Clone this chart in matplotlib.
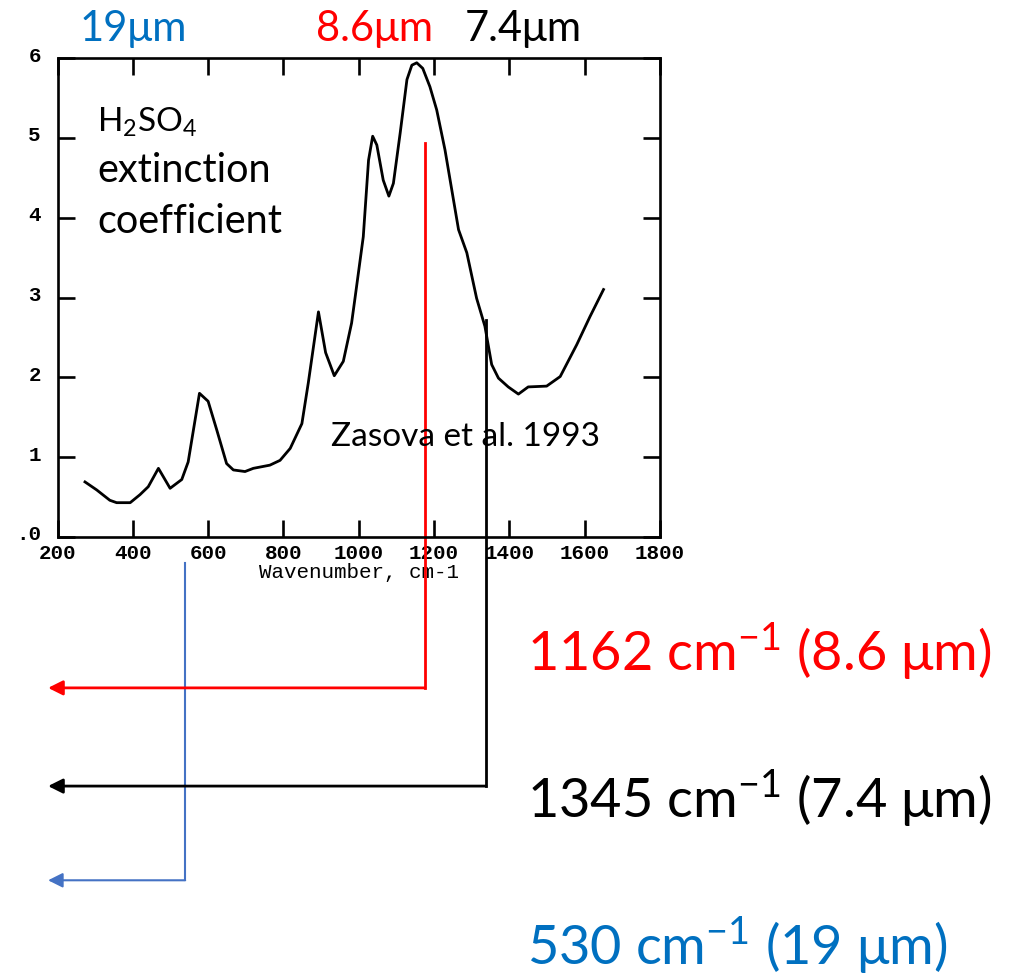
import matplotlib.pyplot as plt
from matplotlib.transforms import ScaledTranslation

plt.rcParams['font.family'] = ['Lato', 'DejaVu Sans']
plt.rcParams['mathtext.fontset'] = 'custom'
plt.rcParams['mathtext.rm'] = 'Lato'
plt.rcParams['mathtext.it'] = 'Lato:italic'
plt.rcParams['mathtext.bf'] = 'Lato:bold'

# H2SO4 extinction coefficient (Zasova et al. 1993)
wavenumber = [273, 304, 339, 357, 393, 419, 441, 468, 499, 530, 547, 562, 577,
              600, 623, 649, 667, 698, 720, 764, 791, 818, 849, 866, 893, 912,
              935, 959, 981, 990, 1012, 1026, 1037, 1048, 1065, 1080, 1092,
              1110, 1128, 1141, 1154, 1170, 1189, 1207, 1229, 1247, 1265, 1287,
              1313, 1335, 1353, 1371, 1397, 1424, 1450, 1499, 1535, 1579, 1614,
              1650]
extinction = [0.69, 0.59, 0.46, 0.43, 0.43, 0.53, 0.63, 0.86, 0.61, 0.72, 0.94,
              1.37, 1.80, 1.70, 1.34, 0.92, 0.84, 0.82, 0.86, 0.90, 0.96, 1.11,
              1.42, 1.93, 2.82, 2.31, 2.02, 2.20, 2.68, 2.99, 3.76, 4.72, 5.02,
              4.91, 4.47, 4.27, 4.43, 5.06, 5.73, 5.91, 5.94, 5.87, 5.64, 5.35,
              4.85, 4.35, 3.85, 3.56, 2.99, 2.64, 2.16, 1.99, 1.88, 1.79, 1.88,
              1.89, 2.01, 2.41, 2.76, 3.10]

xticks = [200, 400, 600, 800, 1000, 1200, 1400, 1600, 1800]
yticks = [0, 1, 2, 3, 4, 5, 6]
ytick_labels = ['.0', '1', '2', '3', '4', '5', '6']

# marked bands: where the guide sits on the plot, and the text for it
marks_x = [1176, 1338, 539]
marks_label = [r'1162 cm$^{-1}$ (8.6 μm)', r'1345 cm$^{-1}$ (7.4 μm)',
               r'530 cm$^{-1}$ (19 μm)']
top_labels = ['19μm', '8.6μm', '7.4μm']
top_x = [402, 1041, 1436]

RED = '#FF0000'
BLUE = '#0070C0'
mark_colors = [RED, 'black', BLUE]
line_colors = [RED, 'black', '#4472C4']
top_colors = [BLUE, RED, 'black']
marks_top = [4.94, 2.72, -0.33]
arrow_y = [-1.89, -3.12, -4.30]
label_base = [671, 818, 965]  # pixel rows of the big labels' baselines

W, H = 1017, 977
fig = plt.figure(figsize=(W / 100, H / 100), dpi=100)
ax = fig.add_axes([57.5 / W, 1 - 537 / H, 602.5 / W, 479 / H])

ax.plot(wavenumber, extinction, color='black', lw=2.0, solid_joinstyle='round')
ax.set_xlim(200, 1800)
ax.set_ylim(0, 6)
ax.set_xticks(xticks)
ax.set_yticks(yticks)
ax.set_yticklabels(ytick_labels)
for s in ax.spines.values():
    s.set_linewidth(1.9)
ax.tick_params(direction='in', top=True, right=True, length=12, width=1.9)
ax.tick_params(axis='x', pad=5)
ax.tick_params(axis='y', pad=12)
up = ScaledTranslation(0, 4 / 100, fig.dpi_scale_trans)
for lab in ax.get_xticklabels() + ax.get_yticklabels():
    lab.set_family('Liberation Mono')
    lab.set_fontweight('bold')
    lab.set_fontsize(15)
for lab in ax.get_yticklabels():
    lab.set_transform(lab.get_transform() + up)
ax.set_xlabel('Wavenumber, cm-1', family='Liberation Mono', fontsize=15,
              labelpad=0)

ax.text(305, 5.075, r'H$_2$SO$_4$', fontsize=24, va='baseline', ha='left')
ax.text(305, 4.449, 'extinction', fontsize=28.5, va='baseline', ha='left')
ax.text(305, 3.81, 'coefficient', fontsize=28.5, va='baseline', ha='left')
ax.text(1283, 1.144, 'Zasova et al. 1993', fontsize=24, ha='center',
        va='baseline')

# guide lines down from the spectrum, then arrows out to the left
for x, top, y, c in zip(marks_x, marks_top, arrow_y, line_colors):
    lw = 1.5 if c == '#4472C4' else 2.0
    ax.plot([x, x], [top, y], color=c, lw=lw, clip_on=False)
    ax.annotate('', xy=(175, y), xytext=(x, y), annotation_clip=False,
                arrowprops=dict(arrowstyle='-|>', color=c, lw=lw,
                                mutation_scale=22, shrinkA=0, shrinkB=0))

for t, x, c in zip(top_labels, top_x, top_colors):
    ax.text(x, 6.207, t, color=c, fontsize=30, ha='center', va='baseline')

for t, y, c in zip(marks_label, label_base, mark_colors):
    fig.text(527 / W, 1 - y / H, t, color=c, fontsize=39, ha='left',
             va='baseline')

fig.savefig('out.png', dpi=100)
